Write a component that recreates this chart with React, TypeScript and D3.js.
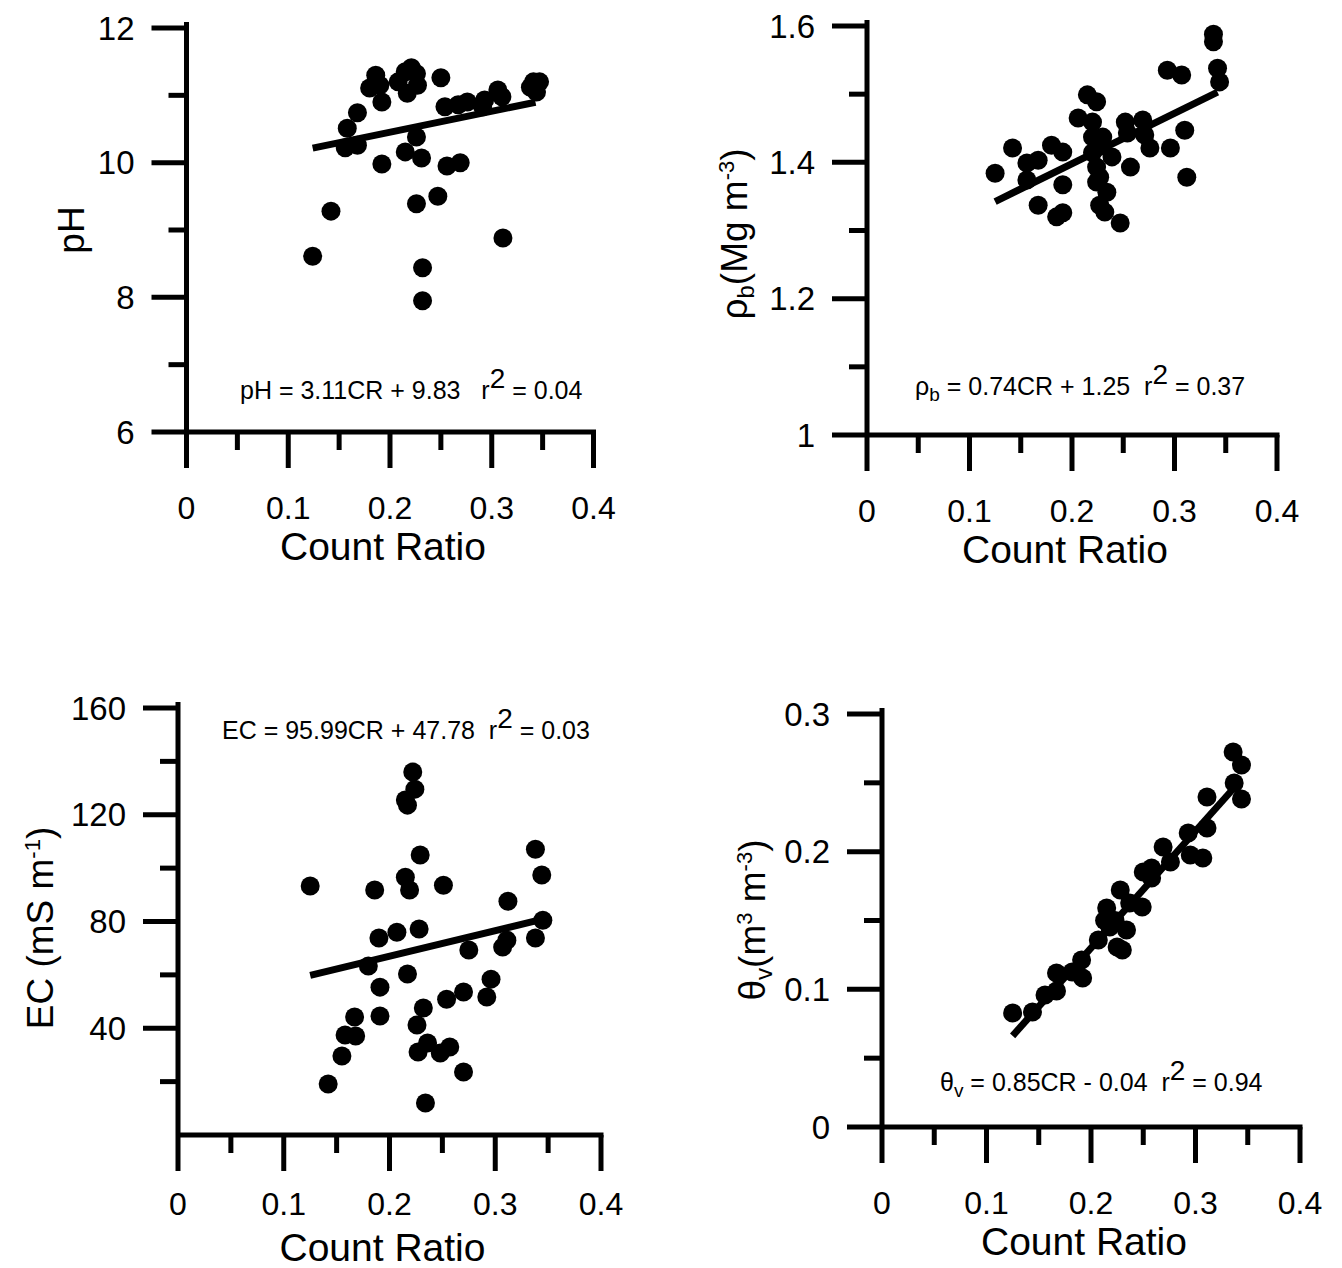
import React from "react";
import * as d3 from "d3";

// ---------- DATA ----------
const xTicks = [0, 0.1, 0.2, 0.3, 0.4];

const phCR = [0.124,0.142,0.156,0.158,0.168,0.168,0.180,0.186,0.190,0.192,0.192,0.208,0.215,0.221,0.226,0.217,0.227,0.215,0.226,0.231,0.226,0.232,0.232,0.247,0.250,0.256,0.269,0.254,0.267,0.276,0.291,0.293,0.306,0.310,0.311,0.338,0.344,0.341,0.347];
const phVal = [8.61,9.28,10.22,10.51,10.26,10.74,11.11,11.30,11.15,10.90,9.98,11.20,11.35,11.41,11.32,11.03,11.15,10.16,10.38,10.07,9.39,8.44,7.95,9.50,11.26,9.95,10.0,10.83,10.86,10.90,10.83,10.93,11.08,10.98,8.88,11.12,11.05,11.2,11.2];

const rhoCR = [0.125,0.142,0.156,0.167,0.156,0.167,0.185,0.191,0.180,0.191,0.191,0.215,0.224,0.206,0.220,0.220,0.230,0.220,0.227,0.239,0.224,0.227,0.224,0.234,0.227,0.232,0.247,0.257,0.252,0.254,0.269,0.271,0.276,0.296,0.310,0.312,0.293,0.307,0.338,0.338,0.342,0.344];
const rhoVal = [1.384,1.421,1.399,1.403,1.374,1.337,1.320,1.326,1.425,1.415,1.367,1.499,1.489,1.465,1.459,1.437,1.437,1.414,1.423,1.408,1.393,1.378,1.371,1.356,1.337,1.327,1.311,1.393,1.459,1.443,1.462,1.440,1.421,1.421,1.447,1.378,1.535,1.528,1.588,1.577,1.538,1.518];

const ecCR = [0.222,0.224,0.215,0.217,0.229,0.215,0.219,0.251,0.125,0.186,0.338,0.344,0.312,0.345,0.338,0.311,0.307,0.275,0.190,0.207,0.228,0.180,0.217,0.191,0.296,0.292,0.270,0.254,0.191,0.232,0.167,0.226,0.158,0.168,0.155,0.142,0.227,0.236,0.248,0.257,0.270,0.234];
const ecVal = [136.0,129.6,125.5,123.6,104.9,96.6,91.8,93.6,93.3,91.8,107.1,97.4,87.6,80.5,73.8,73.0,70.4,69.3,73.8,76.0,77.2,63.3,60.3,55.4,58.4,51.7,53.6,50.9,44.6,47.6,44.2,41.2,37.5,37.1,29.6,19.1,31.1,34.5,30.7,33.0,23.6,12.0];

const thCR = [0.125,0.144,0.156,0.167,0.167,0.182,0.192,0.191,0.207,0.215,0.218,0.228,0.234,0.230,0.225,0.249,0.237,0.250,0.258,0.258,0.269,0.276,0.293,0.295,0.307,0.311,0.311,0.336,0.344,0.337,0.344,0.213,0.223];
const thVal = [0.0828,0.0835,0.0959,0.0988,0.1119,0.1126,0.1082,0.1213,0.1358,0.1591,0.1453,0.1722,0.1431,0.1286,0.1307,0.1598,0.1627,0.1852,0.1881,0.1809,0.2034,0.1925,0.2136,0.1976,0.1954,0.2172,0.2397,0.2724,0.2630,0.2499,0.2383,0.150,0.150];

const phMajor = [6, 8, 10, 12];
const phMinor = [7, 9, 11];
const rhoMajor = [1, 1.2, 1.4, 1.6];
const rhoMinor = [1.1, 1.3, 1.5];
const ecMajor = [40, 80, 120, 160];
const ecMinor = [20, 60, 100, 140];
const thMajor = [0, 0.1, 0.2, 0.3];
const thMinor = [0.05, 0.15, 0.25];

const FONT = "'Liberation Sans', Arial, sans-serif";

type PanelProps = {
  xs: number[]; ys: number[];
  x0: number; x1: number; yTop: number; yBot: number;
  yDomain: [number, number];
  yMajor: number[]; yMinor: number[]; yFmt: (v: number) => string;
  slope: number; intercept: number; lineX: [number, number];
  yTitle: React.ReactNode; yTitleX: number; yTitleY: number;
  eq: React.ReactNode; eqX: number; eqY: number;
  titleOffset?: number; tickOffset?: number;
};

function Panel(p: PanelProps) {
  const x = d3.scaleLinear().domain([0, 0.4]).range([p.x0, p.x1]);
  const y = d3.scaleLinear().domain(p.yDomain).range([p.yBot, p.yTop]);
  const xMinor = d3.range(0.05, 0.4, 0.1);
  const sw = 5;
  return (
    <g>
      <line x1={p.x0} x2={p.x1 + sw / 2} y1={p.yBot} y2={p.yBot} stroke="#000" strokeWidth={sw} />
      <line x1={p.x0} x2={p.x0} y1={p.yTop - 6} y2={p.yBot} stroke="#000" strokeWidth={sw} />
      {xTicks.map((t) => (
        <g key={"xt" + t}>
          <line x1={x(t)} x2={x(t)} y1={p.yBot} y2={p.yBot + 36} stroke="#000" strokeWidth={sw} />
          <text x={x(t)} y={p.yBot + (p.tickOffset ?? 87)} textAnchor="middle" fontSize={32} fontFamily={FONT}>{t === 0 ? "0" : t.toString()}</text>
        </g>
      ))}
      {xMinor.map((t) => (
        <line key={"xm" + t} x1={x(t)} x2={x(t)} y1={p.yBot} y2={p.yBot + 18} stroke="#000" strokeWidth={sw} />
      ))}
      {p.yMajor.map((t) => (
        <g key={"yt" + t}>
          <line x1={p.x0 - 35} x2={p.x0} y1={y(t)} y2={y(t)} stroke="#000" strokeWidth={sw} />
          <text x={p.x0 - 52} y={y(t) + 11.5} textAnchor="end" fontSize={33} fontFamily={FONT}>{p.yFmt(t)}</text>
        </g>
      ))}
      {p.yMinor.map((t) => (
        <line key={"ym" + t} x1={p.x0 - 18} x2={p.x0} y1={y(t)} y2={y(t)} stroke="#000" strokeWidth={sw} />
      ))}
      <text x={(p.x0 + p.x1) / 2 - 7} y={p.yBot + (p.titleOffset ?? 128)} textAnchor="middle" fontSize={39} fontFamily={FONT}>Count Ratio</text>
      <text transform={`translate(${p.yTitleX},${p.yTitleY}) rotate(-90)`} textAnchor="middle" fontSize={37} fontFamily={FONT}>{p.yTitle}</text>
      <line x1={x(p.lineX[0])} x2={x(p.lineX[1])}
        y1={y(p.slope * p.lineX[0] + p.intercept)} y2={y(p.slope * p.lineX[1] + p.intercept)}
        stroke="#000" strokeWidth={7} />
      {p.xs.map((v, i) => (
        <circle key={i} cx={x(v)} cy={y(p.ys[i])} r={9.5} fill="#000" />
      ))}
      <text x={p.eqX} y={p.eqY} fontSize={25} fontFamily={FONT} style={{ whiteSpace: "pre" }}>{p.eq}</text>
    </g>
  );
}

export default function App() {
  return (
    <svg width={1342} height={1268} style={{ display: "block", position: "absolute", left: 0, top: 0, background: "#fff" }}>
      <rect width={1342} height={1268} fill="#fff" />
      <Panel xs={phCR} ys={phVal} x0={186.5} x1={593.5} yTop={28} yBot={432} yDomain={[6, 12]}
        yMajor={phMajor} yMinor={phMinor} yFmt={(v) => String(v)}
        slope={3.11} intercept={9.83} lineX={[0.124, 0.343]}
        yTitle="pH" yTitleX={84} yTitleY={230}
        eq={<><tspan>{"pH = 3.11CR + 9.83   r"}</tspan><tspan dy={-11} fontSize={28}>2</tspan><tspan dy={11}>{" = 0.04"}</tspan></>}
        eqX={240} eqY={399} />
      <Panel xs={rhoCR} ys={rhoVal} x0={867} x1={1277} yTop={26} yBot={435} yDomain={[1, 1.6]}
        yMajor={rhoMajor} yMinor={rhoMinor} yFmt={(v) => (v === 1 ? "1" : v.toFixed(1))}
        slope={0.74} intercept={1.25} lineX={[0.125, 0.342]}
        yTitle={<><tspan>ρ</tspan><tspan fontSize={24} dy={7}>b</tspan><tspan dy={-7}>(Mg m</tspan><tspan fontSize={22} dy={-13}>-3</tspan><tspan dy={13}>)</tspan></>}
        yTitleX={747} yTitleY={234}
        eq={<><tspan>ρ</tspan><tspan fontSize={19} dy={6}>b</tspan><tspan dy={-6}>{" = 0.74CR + 1.25  r"}</tspan><tspan dy={-11} fontSize={28}>2</tspan><tspan dy={11}>{" = 0.37"}</tspan></>}
        eqX={915} eqY={395} />
      <Panel xs={ecCR} ys={ecVal} x0={178} x1={601} yTop={708} yBot={1135} yDomain={[0, 160]}
        yMajor={ecMajor} yMinor={ecMinor} yFmt={(v) => String(v)}
        slope={95.99} intercept={47.78} lineX={[0.125, 0.345]}
        yTitle={<><tspan>EC (mS m</tspan><tspan fontSize={22} dy={-13}>-1</tspan><tspan dy={13}>)</tspan></>}
        yTitleX={53} yTitleY={928}
        eq={<><tspan>{"EC = 95.99CR + 47.78  r"}</tspan><tspan dy={-11} fontSize={28}>2</tspan><tspan dy={11}>{" = 0.03"}</tspan></>}
        eqX={222} eqY={739} titleOffset={126} tickOffset={80} />
      <Panel xs={thCR} ys={thVal} x0={882} x1={1300} yTop={714} yBot={1127} yDomain={[0, 0.3]}
        yMajor={thMajor} yMinor={thMinor} yFmt={(v) => (v === 0 ? "0" : v.toFixed(1))}
        slope={0.85} intercept={-0.04} lineX={[0.125, 0.34]}
        yTitle={<><tspan>θ</tspan><tspan fontSize={24} dy={7}>v</tspan><tspan dy={-7}>(m</tspan><tspan fontSize={22} dy={-13}>3</tspan><tspan dy={13}> m</tspan><tspan fontSize={22} dy={-13}>-3</tspan><tspan dy={13}>)</tspan></>}
        yTitleX={765} yTitleY={920}
        eq={<><tspan>θ</tspan><tspan fontSize={19} dy={6}>v</tspan><tspan dy={-6}>{" = 0.85CR - 0.04  r"}</tspan><tspan dy={-11} fontSize={28}>2</tspan><tspan dy={11}>{" = 0.94"}</tspan></>}
        eqX={940} eqY={1091} />
    </svg>
  );
}
